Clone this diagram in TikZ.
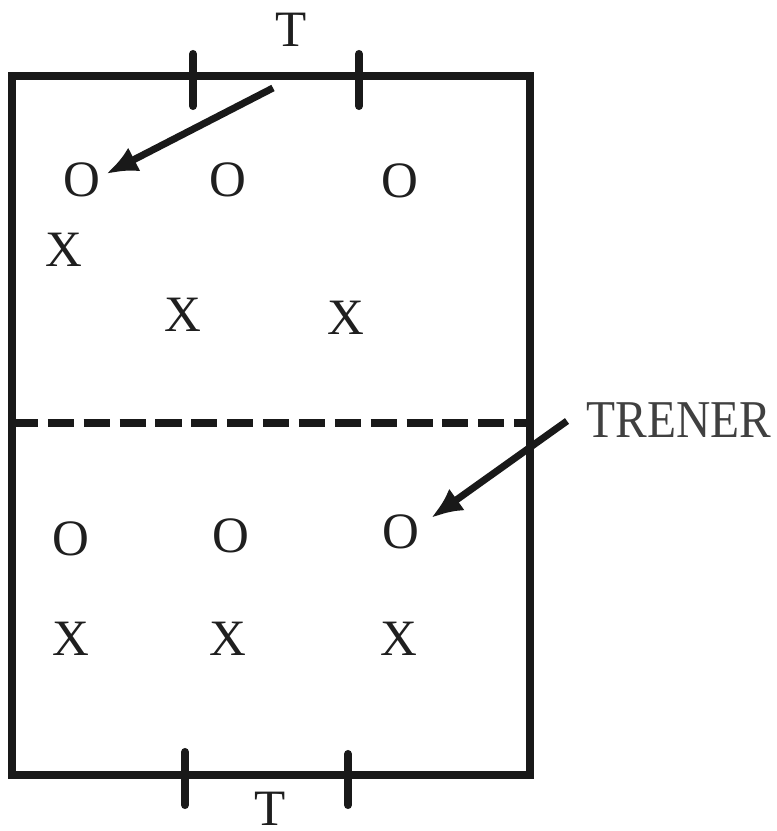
\documentclass[tikz,border=0pt]{standalone}
\usepackage{fontspec}
\setmainfont{Liberation Serif}
\usetikzlibrary{arrows.meta}
\begin{document}
\begin{tikzpicture}[x=0.01cm,y=-0.01cm,
  court/.style={line width=2.3pt,black!90},
  tickmark/.style={line width=2.3pt,line cap=round,black!90},
  netline/.style={line width=2.3pt,black!90,dash pattern=on 7.4pt off 2.8pt},
  lbl/.style={anchor=base,inner sep=0pt,font=\fontsize{14.5}{16}\selectfont,text=black!88},
  pointer/.style={line width=2pt,black!90,-{Latex[length=9pt,width=7.5pt]}}]
\useasboundingbox (0,0) rectangle (776,831);
% court
\draw[court] (12,76) rectangle (530,775);
\draw[netline] (12,423) -- (530,423);
% ticks
\draw[tickmark] (193,54) -- (193,106);
\draw[tickmark] (359,54) -- (359,106);
\draw[tickmark] (185,752) -- (185,805);
\draw[tickmark] (348,754) -- (348,805);
% labels
\node[lbl] (ttop) at (291,47) {T};
\node[lbl] (tbot) at (270,825) {T};
\node[lbl,text=black!75,font=\fontsize{13.5}{15}\selectfont,yscale=1.12] (trener) at (679,437) {TRENER};
\node[lbl] (o1) at (82,197) {O};
\node[lbl] (o2) at (228,197) {O};
\node[lbl] (o3) at (400,198) {O};
\node[lbl] (x1) at (64,267) {X};
\node[lbl] (x2) at (183,332) {X};
\node[lbl] (x3) at (346,335) {X};
\node[lbl] (o4) at (71,555) {O};
\node[lbl] (o5) at (231,552) {O};
\node[lbl] (o6) at (401,548) {O};
\node[lbl] (x4) at (71,655) {X};
\node[lbl] (x5) at (228,655) {X};
\node[lbl] (x6) at (399,655) {X};
% arrows
\coordinate (s1) at (273,88);
\coordinate (e1) at (106,174);
\coordinate (s2) at (567,421);
\coordinate (e2) at (431,518);
\draw[pointer] (s1) -- (e1);
\draw[pointer] (s2) -- (e2);
\end{tikzpicture}
\end{document}
